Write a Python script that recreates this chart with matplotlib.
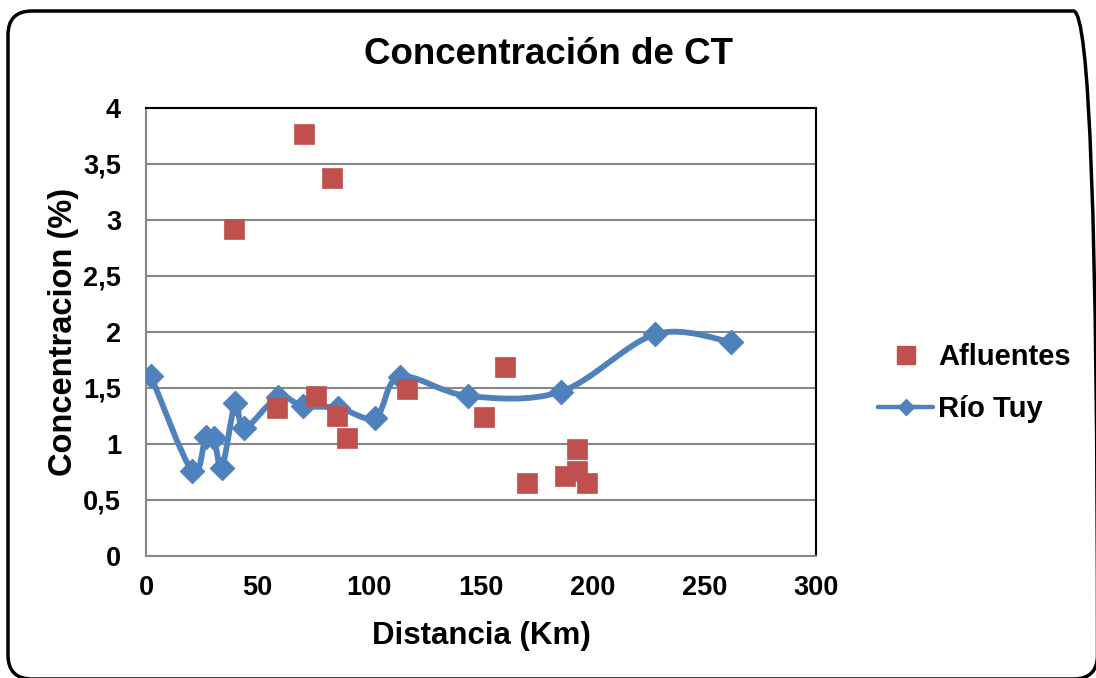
import numpy as np
import matplotlib
matplotlib.use("Agg")
import matplotlib.pyplot as plt
from matplotlib.path import Path
from matplotlib.patches import PathPatch, FancyBboxPatch
from matplotlib.lines import Line2D
from matplotlib.ticker import FuncFormatter

plt.rcParams['font.family'] = ['Liberation Sans', 'DejaVu Sans']

# ---- data ----
tuy_x = [2.2, 20.7, 26.7, 30.4, 34.0, 40.0, 44.0, 59.1, 70.3, 86.0, 102.7, 113.7, 144.2, 185.8, 228.1, 262.1]
tuy_y = [1.606, 0.758, 1.059, 1.05, 0.788, 1.368, 1.139, 1.415, 1.338, 1.323, 1.234, 1.60, 1.427, 1.466, 1.978, 1.909]

afl_x = [39.5, 70.9, 83.4, 58.7, 76.0, 85.4, 89.9, 116.7, 151.4, 160.9, 170.6, 187.5, 193.2, 193.2, 197.5]
afl_y = [2.92, 3.762, 3.369, 1.317, 1.427, 1.249, 1.05, 1.49, 1.243, 1.683, 0.654, 0.714, 0.758, 0.952, 0.654]

title = "Concentración de CT"
xlabel = "Distancia (Km)"
ylabel = "Concentracion (%)"
label_afl = "Afluentes"
label_tuy = "Río Tuy"

blue = "#4F81BD"
red = "#C0504D"

W, H = 1096, 678
fig = plt.figure(figsize=(W / 100, H / 100), dpi=100)

# rounded outer border (chart area), in figure pixel coordinates (y from bottom)
border = FancyBboxPatch((8 / W, -1 / H), (1097.5 - 8) / W, (667 + 1) / H,
                        boxstyle="round,pad=0,rounding_size=24",
                        transform=fig.transFigure, mutation_scale=1.0 / W,
                        mutation_aspect=W / H, fill=False,
                        edgecolor="black", linewidth=2.5, clip_on=False)
fig.patches.append(border)

ax = fig.add_axes([146 / W, (H - 556) / H, (816 - 146) / W, (556 - 107.5) / H])
ax.set_xlim(0, 300)
ax.set_ylim(0, 4)
ax.set_xticks([0, 50, 100, 150, 200, 250, 300])
ax.set_yticks([0, 0.5, 1, 1.5, 2, 2.5, 3, 3.5, 4])
ax.yaxis.set_major_formatter(FuncFormatter(lambda v, p: ("%g" % v).replace(".", ",")))
ax.grid(axis="y", color="#888888", linewidth=1.5)
ax.set_axisbelow(True)
ax.tick_params(length=0, labelsize=19.5)
ax.tick_params(axis="y", pad=18)
ax.tick_params(axis="x", pad=14)
for lab in ax.get_xticklabels() + ax.get_yticklabels():
    lab.set_fontweight("bold")
ax.spines["left"].set_color("#888888")
ax.spines["bottom"].set_color("#888888")
ax.spines["top"].set_color("black")
ax.spines["right"].set_color("black")
for s in ax.spines.values():
    s.set_linewidth(1.5)

# smoothed line (Catmull-Rom style Bezier as in spreadsheet smoothing)
px = np.array(tuy_x, float)
py = np.array(tuy_y, float)
n = len(px)
verts = [(px[0], py[0])]
codes = [Path.MOVETO]
for i in range(n - 1):
    p0 = np.array([px[max(i - 1, 0)], py[max(i - 1, 0)]])
    p1 = np.array([px[i], py[i]])
    p2 = np.array([px[i + 1], py[i + 1]])
    p3 = np.array([px[min(i + 2, n - 1)], py[min(i + 2, n - 1)]])
    c1 = p1 + (p2 - p0) / 6.0
    c2 = p2 - (p3 - p1) / 6.0
    verts += [tuple(c1), tuple(c2), tuple(p2)]
    codes += [Path.CURVE4] * 3
ax.add_patch(PathPatch(Path(verts, codes), fill=False, edgecolor=blue,
                       linewidth=4.2, capstyle="round", joinstyle="round", zorder=3))
ax.plot(tuy_x, tuy_y, linestyle="none", marker="D", markersize=12,
        color=blue, markeredgecolor=blue, zorder=4)

ax.plot(afl_x, afl_y, linestyle="none", marker="s", markersize=14,
        color=red, markeredgecolor=red, markeredgewidth=0.5, zorder=5)

ax.set_xlabel(xlabel, fontsize=22.5, fontweight="bold", labelpad=14)
ax.set_ylabel(ylabel, fontsize=23.5, fontweight="bold", labelpad=3)

fig.text(548 / W, 1 - 54 / H, title, fontsize=26.5, fontweight="bold",
         ha="center", va="center")

h1 = Line2D([], [], linestyle="none", marker="s", markersize=13,
            color=red, markeredgecolor=red)
h2 = Line2D([], [], color=blue, linewidth=3.2, marker="D", markersize=8,
            markeredgecolor=blue, solid_capstyle="round")
fig.legend([h1, h2], [label_afl, label_tuy], loc="center left",
           bbox_to_anchor=(878 / W, 1 - 383 / H), frameon=False,
           prop={"family": "Liberation Sans", "weight": "bold", "size": 21},
           handlelength=1.9, handletextpad=0.15, labelspacing=0.82,
           borderpad=0, borderaxespad=0)

fig.savefig("out.png", dpi=100)
